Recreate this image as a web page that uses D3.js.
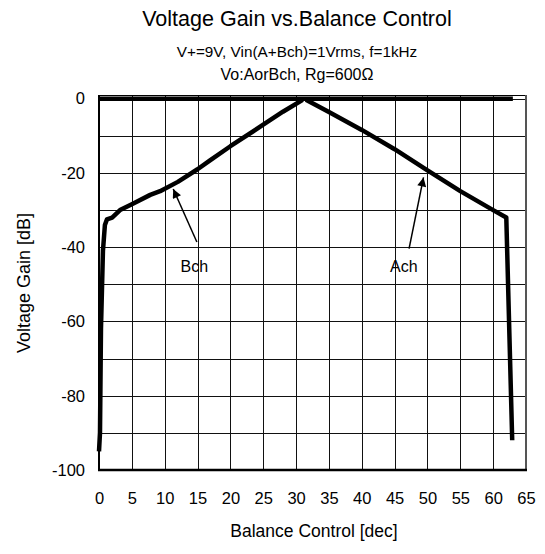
<!DOCTYPE html>
<html>
<head>
<meta charset="utf-8">
<script src="https://cdn.jsdelivr.net/npm/d3@7"></script>
<style>
body { margin: 0; background: #fff; }
text { font-family: Arial, "Liberation Sans", sans-serif; fill: #000; }
</style>
</head>
<body>
<svg id="chart" width="545" height="554"></svg>
<script>
// balance control steps
var bchX = [0, 0.15, 0.3, 0.6, 0.9, 1.2, 2, 3.2, 5, 7.8, 9.3, 12, 15, 16.9, 20, 25, 28, 31];
var bchDb = [-95, -90, -62, -41, -34, -32.5, -32, -30, -28.4, -25.9, -24.9, -22.4, -19, -16.6, -12.8, -7, -3.5, -0.3];
var achX = [31.5, 35, 40, 45, 50, 55, 60, 62, 62.9];
var achDb = [-0.3, -3.6, -8.4, -13.6, -19.3, -24.9, -30, -32, -92];
var flatX = [0, 63];
var flatDb = [0, 0];

var xTicks = d3.range(0, 66, 5);
var yTicks = [0, -20, -40, -60, -80, -100];
var yGrid = d3.range(-100, 1, 10);

// arrows: [label, labelX, labelDb, fromX, fromDb, toX, toDb]
var notes = [
    ["Bch", 14.5, -46.8, 14.9, -38.6, 11.3, -24.3],
    ["Ach", 46.4, -46.8, 47.2, -40.4, 49.4, -21.2]
];

var svg = d3.select('#chart');
var pL = 99, pR = 526, pT = 95, pB = 470;

var x = d3.scaleLinear().domain([0, 65]).range([pL, pR]);
var y = d3.scaleLinear().domain([-100, 1]).range([pB, pT]);

// grid
svg.append('g')
    .selectAll('line')
    .data(xTicks)
    .enter().append('line')
    .attr('x1', function(d){ return Math.round(x(d)) + 0.5; })
    .attr('x2', function(d){ return Math.round(x(d)) + 0.5; })
    .attr('y1', pT).attr('y2', pB)
    .attr('stroke', '#111').attr('stroke-width', 1);
svg.append('g')
    .selectAll('line')
    .data(yGrid)
    .enter().append('line')
    .attr('y1', function(d){ return Math.round(y(d)) + 0.5; })
    .attr('y2', function(d){ return Math.round(y(d)) + 0.5; })
    .attr('x1', pL).attr('x2', pR)
    .attr('stroke', '#111').attr('stroke-width', 1);

// frame
svg.append('line').attr('x1', pL).attr('x2', pR).attr('y1', pT + 0.5).attr('y2', pT + 0.5)
    .attr('stroke', '#000');
svg.append('line').attr('x1', pR).attr('x2', pR).attr('y1', pT).attr('y2', pB)
    .attr('stroke', '#555').attr('stroke-width', 2);
svg.append('line').attr('x1', pL).attr('x2', pL).attr('y1', pT).attr('y2', pB + 1)
    .attr('stroke', '#000').attr('stroke-width', 2);
svg.append('line').attr('x1', pL - 1).attr('x2', pR + 1).attr('y1', pB).attr('y2', pB)
    .attr('stroke', '#000').attr('stroke-width', 2.5);

// axes labels via d3 axes
var xAxis = d3.axisBottom(x).tickValues(xTicks).tickSize(0).tickPadding(22)
    .tickFormat(function(d){ return String(d); });
var gx = svg.append('g').attr('transform', 'translate(0,' + pB + ')').call(xAxis);
gx.select('.domain').remove();
gx.selectAll('text').attr('font-size', 16.5).attr('font-family', 'Arial, "Liberation Sans", sans-serif');

var yAxis = d3.axisLeft(y).tickValues(yTicks).tickSize(0).tickPadding(14)
    .tickFormat(function(d){ return String(d); });
var gy = svg.append('g').attr('transform', 'translate(' + pL + ',0)').call(yAxis);
gy.select('.domain').remove();
gy.selectAll('text').attr('font-size', 16.5).attr('font-family', 'Arial, "Liberation Sans", sans-serif');

// curves
var line = d3.line()
    .x(function(d){ return x(d[0]); })
    .y(function(d){ return y(d[1]); });

function pairs(xs, ys) {
    return xs.map(function(v, i){ return [v, ys[i]]; });
}

[pairs(flatX, flatDb), pairs(bchX, bchDb), pairs(achX, achDb)].forEach(function(p){
    svg.append('path')
        .datum(p)
        .attr('d', line)
        .attr('fill', 'none')
        .attr('stroke', '#000')
        .attr('stroke-width', 4.5)
        .attr('stroke-linejoin', 'round');
});

// arrows
var defs = svg.append('defs');
defs.append('marker')
    .attr('id', 'head')
    .attr('viewBox', '0 0 10 10')
    .attr('refX', 10).attr('refY', 5)
    .attr('markerWidth', 11).attr('markerHeight', 9)
    .attr('markerUnits', 'userSpaceOnUse')
    .attr('orient', 'auto')
    .append('path').attr('d', 'M0,0L10,5L0,10Z').attr('fill', '#000');

notes.forEach(function(n){
    svg.append('line')
        .attr('x1', x(n[3])).attr('y1', y(n[4]))
        .attr('x2', x(n[5])).attr('y2', y(n[6]))
        .attr('stroke', '#000').attr('stroke-width', 1.5)
        .attr('marker-end', 'url(#head)');
    svg.append('text')
        .attr('x', x(n[1])).attr('y', y(n[2]))
        .attr('text-anchor', 'middle')
        .attr('font-size', 16)
        .text(n[0]);
});

// titles
svg.append('text').attr('x', 297).attr('y', 26).attr('text-anchor', 'middle')
    .attr('font-size', 21.5).text('Voltage Gain vs.Balance Control');
svg.append('text').attr('x', 297).attr('y', 57).attr('text-anchor', 'middle')
    .attr('font-size', 15.3).text('V+=9V, Vin(A+Bch)=1Vrms, f=1kHz');
svg.append('text').attr('x', 297).attr('y', 80).attr('text-anchor', 'middle')
    .attr('font-size', 16).text('Vo:AorBch, Rg=600Ω');
svg.append('text').attr('x', 314).attr('y', 537).attr('text-anchor', 'middle')
    .attr('font-size', 17.5).text('Balance Control [dec]');
svg.append('text')
    .attr('transform', 'translate(30,283) rotate(-90)')
    .attr('text-anchor', 'middle')
    .attr('font-size', 18).text('Voltage Gain [dB]');
</script>
</body>
</html>
